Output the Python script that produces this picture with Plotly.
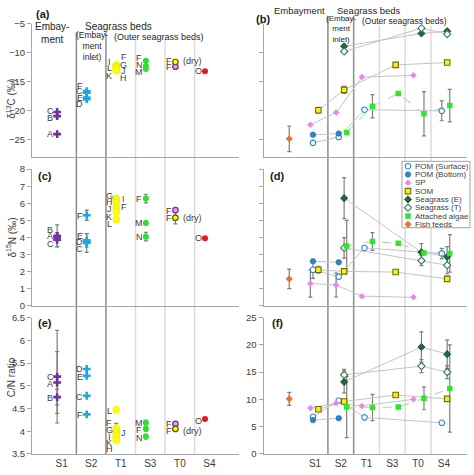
import plotly.graph_objects as go

# ---------------- DATA ----------------
categories = ["S1", "S2", "T1", "S3", "T0", "S4"]

# Left panels: individual sources per site (group "T0d" = dry feed at T0)
a_group = ["S1", "S1", "S1", "S2", "S2", "S2", "S2", "T1", "T1", "T1", "T1", "T1", "T1", "T1",
           "S3", "S3", "S3", "T0d", "T0", "S4"]
a_value = [-20.2, -20.9, -24.0, -16.6, -16.9, -17.7, -18.0, -12.1, -12.2, -12.4, -12.6, -12.8, -13.0, -13.1,
           -11.4, -12.3, -12.8, -11.6, -12.4, -13.2]
a_err = [0] * 20

c_group = ["S1", "S1", "S1", "S2", "S2", "S2", "S2", "T1", "T1", "T1", "T1", "T1", "T1", "T1",
           "S3", "S3", "S3", "T0", "T0d", "S4"]
c_value = [4.1, 4.0, 3.87, 5.3, 3.83, 3.75, 3.68, 6.3, 6.22, 6.05, 5.78, 5.65, 5.5, 5.05,
           6.28, 4.85, 4.05, 5.6, 5.15, 3.95]
c_err = [0.64, 0, 0.42, 0.3, 0.4, 0, 0.55, 0, 0, 0, 0, 0, 0, 0,
         0.25, 0.1, 0.25, 0, 0.35, 0]

e_group = ["S1", "S1", "S1", "S2", "S2", "S2", "S2", "T1", "T1", "T1", "T1", "T1", "T1", "T1",
           "S3", "S3", "S3", "T0", "T0d", "S4"]
e_value = [5.2, 5.07, 4.75, 5.37, 5.22, 4.78, 4.37, 4.47, 4.07, 4.0, 3.95, 3.9, 3.85, 3.8,
           4.19, 4.05, 3.88, 4.16, 4.05, 4.27]
e_err = [1.02, 0.68, 0.17, 0, 0, 0, 0, 0, 0.1, 0, 0, 0, 0, 0,
         0.05, 0.05, 0.05, 0, 0, 0]

# Letter labels (site, text, y, side)
a_lab_site = ["S1", "S1", "S1", "S2", "S2", "S2", "S2", "T1", "T1", "T1", "T1", "T1", "T1", "T1",
              "S3", "S3", "S3", "T0", "T0", "T0", "S4"]
a_lab_text = ["C", "B", "A", "F", "C", "E", "D", "I", "L", "K", "F", "G", "J", "H",
              "F", "N", "M", "F", "F", "(dry)", "O"]
a_lab_y = [-20.1, -21.2, -24.0, -15.7, -16.6, -17.8, -18.8, -11.6, -12.7, -14.0, -10.8, -12.1, -13.2, -14.4,
           -10.9, -12.2, -13.3, -11.4, -12.4, -11.4, -13.2]
a_lab_side = ["L", "L", "L", "L", "L", "L", "L", "L", "L", "L", "R", "R", "R", "R",
              "L", "L", "L", "L", "L", "D", "L"]

c_lab_site = ["S1", "S1", "S1", "S2", "S2", "S2", "S2", "T1", "T1", "T1", "T1", "T1", "T1", "T1",
              "S3", "S3", "S3", "T0", "T0", "T0", "S4"]
c_lab_text = ["B", "A", "C", "F", "E", "D", "C", "G", "H", "J", "K", "L", "I", "F",
              "F", "M", "N", "F", "F", "(dry)", "O"]
c_lab_y = [4.42, 4.1, 3.62, 5.26, 4.08, 3.76, 3.3, 6.4, 6.06, 5.64, 5.2, 4.78, 6.25, 5.77,
           6.25, 4.82, 4.02, 5.58, 5.12, 5.12, 3.95]
c_lab_side = ["L", "L", "L", "L", "L", "L", "L", "L", "L", "L", "L", "L", "R", "R",
              "L", "L", "L", "L", "L", "D", "L"]

e_lab_site = ["S1", "S1", "S1", "S2", "S2", "S2", "S2", "T1", "T1", "T1", "T1", "T1", "T1", "T1",
              "S3", "S3", "S3", "T0", "T0", "T0", "S4"]
e_lab_text = ["C", "A", "B", "D", "E", "C", "F", "L", "F", "G", "I", "K", "H", "J",
              "M", "F", "N", "F", "F", "(dry)", "O"]
e_lab_y = [5.2, 5.03, 4.74, 5.36, 5.2, 4.75, 4.35, 4.45, 4.17, 4.02, 3.88, 3.75, 3.61, 3.96,
           4.18, 4.02, 3.86, 4.15, 4.0, 4.0, 4.23]
e_lab_side = ["L", "L", "L", "L", "L", "L", "L", "L", "L", "L", "L", "L", "L", "R",
              "L", "L", "L", "L", "L", "D", "L"]

# Right panels: mean values per source type along the sites
series_names = ["POM (Surface)", "POM (Bottom)", "SP", "SOM", "Seagrass (E)", "Seagrass (T)",
                "Attached algae", "Fish feeds"]
N = None
b_vals = {
    "POM (Surface)": [-25.5, -24.5, -19.8, N, N, -20.0],
    "POM (Bottom)": [-24.1, -23.9, N, N, N, N],
    "SP": [-22.4, -20.3, -14.2, N, -13.9, N],
    "SOM": [-19.9, -16.4, N, -12.1, N, -11.7],
    "Seagrass (E)": [N, -8.9, N, N, -6.7, -6.3],
    "Seagrass (T)": [N, -9.8, N, N, -5.8, -6.8],
    "Attached algae": [N, -23.7, -19.2, -17.0, -20.5, -19.1],
}
b_errs = {
    "POM (Surface)": [0, 0, 0, 0, 0, 1.7],
    "SOM": [0.5, 0.6, 0, 0, 0, 0],
    "Attached algae": [0, 0, 2.0, 0, 3.8, 2.8],
}
b_fish, b_fish_err = -24.8, 2.2

d_vals = {
    "POM (Surface)": [2.11, 1.71, 3.39, N, N, 3.07],
    "POM (Bottom)": [2.61, 2.55, N, N, N, N],
    "SP": [1.31, 1.22, 0.57, N, 0.5, N],
    "SOM": [2.11, 2.02, N, 1.98, N, 1.58],
    "Seagrass (E)": [N, 6.3, N, N, 3.14, 2.87],
    "Seagrass (T)": [N, 3.39, N, N, 2.65, 2.38],
    "Attached algae": [N, 3.5, 3.77, 3.66, 3.1, 3.07],
}
d_errs = {
    "POM (Surface)": [0.5, 0, 0, 0, 0, 0.3],
    "SP": [0.8, 0.7, 0, 0, 0, 0],
    "SOM": [0.2, 0.1, 0, 0, 0, 0.15],
    "Seagrass (E)": [0, 1.2, 0, 0, 0.5, 0.6],
    "Seagrass (T)": [0, 0.6, 0, 0, 0.3, 0.5],
    "Attached algae": [0, 1.5, 0.52, 0, 0, 1.1],
}
d_fish, d_fish_err = 1.58, 0.57

f_vals = {
    "POM (Surface)": [6.8, 9.8, 6.7, N, N, 5.7],
    "POM (Bottom)": [6.2, 6.55, N, N, N, N],
    "SP": [8.4, 9.3, 8.8, N, 10.0, N],
    "SOM": [8.2, 9.6, N, 10.8, N, 10.1],
    "Seagrass (E)": [N, 13.2, N, N, 19.6, 18.3],
    "Seagrass (T)": [N, 14.5, N, N, 16.1, 15.0],
    "Attached algae": [N, 8.6, 8.5, 8.6, 10.2, 12.0],
}
f_errs = {
    "SOM": [0, 0.4, 0, 0.3, 0, 0.3],
    "Seagrass (E)": [0, 2.0, 0, 0, 2.8, 2.6],
    "Seagrass (T)": [0, 1.0, 0, 0, 1.2, 1.2],
    "Attached algae": [0, 5.6, 2.4, 0, 2.1, 8.0],
}
f_fish, f_fish_err = 10.1, 1.2

# ---------------- STYLE ----------------
W, H = 474, 475
FONT = "Liberation Sans, Arial, sans-serif"
TXT = "#404040"
ERRC = "#7F7F7F"
pos = {c: i + 1 for i, c in enumerate(categories)}

left_style = {
    "S1": dict(symbol="cross", size=6.5, color="#7030A0", line=dict(width=0)),
    "S2": dict(symbol="cross", size=6.5, color="#1CA8E0", line=dict(width=0)),
    "T1": dict(symbol="circle", size=7, color="#FFFF00", line=dict(width=0.5, color="#E6E600")),
    "S3": dict(symbol="circle", size=6, color="#2EE02E", line=dict(width=0)),
    "T0": dict(symbol="circle", size=5.5, color="#EE99EE", line=dict(width=1.2, color="#7030A0")),
    "T0d": dict(symbol="circle", size=5.5, color="#FFFF00", line=dict(width=1.2, color="#5A5A00")),
    "S4": dict(symbol="circle", size=6, color="#E81818", line=dict(width=0)),
}
group_site = {"S1": "S1", "S2": "S2", "T1": "T1", "S3": "S3", "T0": "T0", "T0d": "T0", "S4": "S4"}

right_style = {
    "POM (Surface)": dict(symbol="circle", size=5.5, color="white", line=dict(width=1.1, color="#2E86C8")),
    "POM (Bottom)": dict(symbol="circle", size=5.5, color="#2E86C8", line=dict(width=0.6, color="#1F6FA8")),
    "SP": dict(symbol="diamond", size=5, color="#EE82EE", line=dict(width=0)),
    "SOM": dict(symbol="square", size=5.5, color="#F5EE1A", line=dict(width=1.1, color="#6E6E00")),
    "Seagrass (E)": dict(symbol="diamond", size=5.5, color="#1E6B3A", line=dict(width=0.8, color="#0F4020")),
    "Seagrass (T)": dict(symbol="diamond", size=5.5, color="white", line=dict(width=1.1, color="#2E7D4F")),
    "Attached algae": dict(symbol="square", size=5.5, color="#2EE62E", line=dict(width=0)),
    "Fish feeds": dict(symbol="diamond", size=5.5, color="#E8732A", line=dict(width=0)),
}
right_offset = {"POM (Surface)": -0.08, "POM (Bottom)": -0.08, "SP": -0.18, "SOM": 0.13,
                "Seagrass (E)": 0.13, "Seagrass (T)": 0.13, "Attached algae": 0.23}

fig = go.Figure()


def ax(n):
    return ("x" if n == 1 else f"x{n}"), ("y" if n == 1 else f"y{n}")


def add_left(n, groups, values, errs):
    xa, ya = ax(n)
    ex, ey, ee = [], [], []
    for g, v, e in zip(groups, values, errs):
        if e:
            ex.append(pos[group_site[g]] - 0.15); ey.append(v); ee.append(e)
    if ex:
        fig.add_trace(go.Scatter(x=ex, y=ey, mode="markers", marker=dict(size=2, opacity=0),
                                 error_y=dict(type="data", array=ee, color=ERRC, thickness=1.2, width=2),
                                 xaxis=xa, yaxis=ya, showlegend=False, hoverinfo="skip"))
    for g in left_style:
        xs = [pos[group_site[gg]] - 0.15 for gg in groups if gg == g]
        ys = [v for gg, v in zip(groups, values) if gg == g]
        if xs:
            fig.add_trace(go.Scatter(x=xs, y=ys, mode="markers", marker=left_style[g],
                                     xaxis=xa, yaxis=ya, showlegend=False))


def add_labels(n, sites, texts, ys, sides):
    xa, ya = ax(n)
    for s, t, y, sd in zip(sites, texts, ys, sides):
        if sd == "L":
            x, anc = pos[s] - 0.38, "center"
        elif sd == "R":
            x, anc = pos[s] + 0.1, "center"
        else:
            x, anc = pos[s] + 0.04, "left"
        fig.add_annotation(x=x, y=y, xref=xa, yref=ya, text=t, showarrow=False, xanchor=anc,
                           yanchor="middle", font=dict(family=FONT, size=9, color=TXT))


def add_right(n, vals, errs, fish, fish_err):
    xa, ya = ax(n)
    for name, ev in errs.items():
        xs, ys, es = [], [], []
        for i, (v, e) in enumerate(zip(vals[name], ev)):
            if v is not None and e:
                xs.append(i + 1 + right_offset[name]); ys.append(v); es.append(e)
        if xs:
            fig.add_trace(go.Scatter(x=xs, y=ys, mode="markers", marker=dict(size=2, opacity=0),
                                     error_y=dict(type="data", array=es, color=ERRC, thickness=1.2, width=2),
                                     xaxis=xa, yaxis=ya, showlegend=False, hoverinfo="skip"))
    fig.add_trace(go.Scatter(x=[0], y=[fish], mode="markers", marker=dict(size=2, opacity=0),
                             error_y=dict(type="data", array=[fish_err], color=ERRC, thickness=1.2, width=2),
                             xaxis=xa, yaxis=ya, showlegend=False, hoverinfo="skip"))
    for name, v in vals.items():
        xs = [i + 1 + right_offset[name] for i in range(len(categories))]
        dashed = name == "Attached algae"
        fig.add_trace(go.Scatter(x=xs, y=v, mode="lines", connectgaps=True,
                                 line=dict(color="#B5DDB5" if dashed else "#C4C4C4", width=1.2 if dashed else 1,
                                           dash="dash" if dashed else "solid"),
                                 xaxis=xa, yaxis=ya, showlegend=False, hoverinfo="skip"))
    for name, v in vals.items():
        xs = [i + 1 + right_offset[name] for i in range(len(categories))]
        fig.add_trace(go.Scatter(x=xs, y=v, mode="markers", marker=right_style[name],
                                 xaxis=xa, yaxis=ya, showlegend=False))
    fig.add_trace(go.Scatter(x=[0], y=[fish], mode="markers", marker=right_style["Fish feeds"],
                             xaxis=xa, yaxis=ya, showlegend=False))


add_left(1, a_group, a_value, a_err)
add_left(3, c_group, c_value, c_err)
add_left(5, e_group, e_value, e_err)
add_labels(1, a_lab_site, a_lab_text, a_lab_y, a_lab_side)
add_labels(3, c_lab_site, c_lab_text, c_lab_y, c_lab_side)
add_labels(5, e_lab_site, e_lab_text, e_lab_y, e_lab_side)
add_right(2, b_vals, b_errs, b_fish, b_fish_err)
add_right(4, d_vals, d_errs, d_fish, d_fish_err)
add_right(6, f_vals, f_errs, f_fish, f_fish_err)


# ---------------- AXES ----------------
def py(y):
    return 1 - y / H


L_DOM = [32 / W, 239 / W]
R_DOM = [263.5 / W, 467 / W]
ROWS = [[py(155), py(18)], [py(307), py(167)], [py(458.5), py(319)]]
yranges = {1: [-28, -5], 2: [-28, -5], 3: [0, 8], 4: [0, 8], 5: [3.5, 6.5], 6: [0, 25]}
ydticks = {1: 5, 2: 5, 3: 1, 4: 1, 5: 0.5, 6: 5}
ylabels = {1: True, 2: False, 3: True, 4: False, 5: True, 6: True}

layout = {}
for r in range(3):
    for c in range(2):
        n = 2 * r + c + 1
        xk = "xaxis" if n == 1 else f"xaxis{n}"
        yk = "yaxis" if n == 1 else f"yaxis{n}"
        xa, ya = ax(n)
        layout[xk] = dict(domain=L_DOM if c == 0 else R_DOM, range=[0, 7] if c == 0 else [-1, 6.9],
                          anchor=ya, showline=True, linecolor="#A6A6A6", linewidth=1, showgrid=False,
                          zeroline=False, tickmode="array", tickvals=list(range(1, 7)),
                          ticktext=categories if r == 2 else [""] * 6, ticks="",
                          tickfont=dict(family=FONT, size=10, color=TXT), fixedrange=True)
        layout[yk] = dict(domain=ROWS[r], range=yranges[n], anchor=xa, showline=True, linecolor="#A6A6A6",
                          linewidth=1, showgrid=False, zeroline=False, ticks="outside", ticklen=4,
                          tickcolor="#A6A6A6", dtick=ydticks[n], tick0=0, showticklabels=ylabels[n],
                          tickfont=dict(family=FONT, size=9.5, color=TXT), fixedrange=True)

layout["xaxis7"] = dict(domain=[0, 1], range=[0, W], visible=False, anchor="y7", fixedrange=True)
layout["yaxis7"] = dict(domain=[0, 1], range=[H, 0], visible=False, anchor="x7", fixedrange=True)

fig.update_layout(width=W, height=H, margin=dict(l=0, r=0, t=0, b=0), plot_bgcolor="rgba(0,0,0,0)",
                  paper_bgcolor="white", showlegend=False, **layout)

shapes = []
for xr, top_dark, top_light in (("x", 27, 35), ("x2", 10, 20)):
    for xv in (1.5, 2.5):
        shapes.append(dict(type="line", xref=xr, yref="paper", x0=xv, x1=xv, y0=py(459), y1=py(top_dark),
                           line=dict(color="#8C8C8C", width=1.5), layer="below"))
    for xv in (3.5, 4.5, 5.5):
        shapes.append(dict(type="line", xref=xr, yref="paper", x0=xv, x1=xv, y0=py(459), y1=py(top_light),
                           line=dict(color="#DCDCDC", width=1.5), layer="below"))
fig.update_layout(shapes=shapes)

# hand-drawn compact legend (box + glyphs on a pixel-coordinate overlay)
fig.add_trace(go.Scatter(x=[402, 470, 470, 402, 402], y=[159, 159, 227, 227, 159], mode="lines",
                         fill="toself", fillcolor="white", line=dict(color="#A0A0A0", width=1),
                         xaxis="x7", yaxis="y7", showlegend=False, hoverinfo="skip"))
for i, name in enumerate(series_names):
    yy = 164 + 8.5 * i
    fig.add_trace(go.Scatter(x=[408], y=[yy], mode="markers", marker=right_style[name], xaxis="x7", yaxis="y7",
                             showlegend=False, hoverinfo="skip", cliponaxis=False))
    fig.add_annotation(x=413 / W, y=py(yy), xref="paper", yref="paper", text=name, showarrow=False,
                       xanchor="left", yanchor="middle", font=dict(family=FONT, size=8, color=TXT))


def hdr(x, y, t, size=9.5):
    fig.add_annotation(x=x / W, y=py(y), xref="paper", yref="paper", text=t, showarrow=False,
                       xanchor="center", yanchor="middle", font=dict(family=FONT, size=size, color="#262626"))


hdr(52, 27.5, "Embay-<br>ment", 10)
hdr(118, 21, "Seagrass beds", 10)
hdr(92, 41, "(Embay-<br>ment<br>inlet)", 8.5)
hdr(159, 32, "(Outer seagrass beds)", 9)
hdr(299, 5, "Embayment", 9.5)
hdr(369, 5, "Seagrass beds", 9.5)
hdr(341, 24, "(Embay-<br>ment<br>inlet)", 8)
hdr(404, 15, "(Outer seagrass beds)", 8.5)

for t, x, y in (("(a)", 43, 8), ("(b)", 263, 13), ("(c)", 45, 174), ("(d)", 277, 174), ("(e)", 45, 325),
                ("(f)", 277, 325)):
    fig.add_annotation(x=x / W, y=py(y), xref="paper", yref="paper", text=f"<b>{t}</b>", showarrow=False,
                       xanchor="center", yanchor="middle", font=dict(family=FONT, size=11, color="#1A1A1A"))

for t, y in (("δ<sup>13</sup>C (‰)", 95), ("δ<sup>15</sup>N (‰)", 237), ("C/N ratio", 380)):
    fig.add_annotation(x=11 / W, y=py(y), xref="paper", yref="paper", text=t, showarrow=False, textangle=-90,
                       xanchor="center", yanchor="middle", font=dict(family=FONT, size=10, color=TXT))

fig.write_html("out.html", config={"displayModeBar": False},
               post_script="document.body.style.margin='0';")
